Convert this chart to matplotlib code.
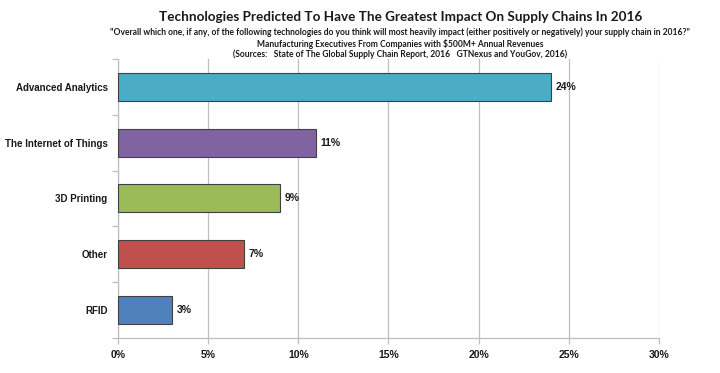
import matplotlib
matplotlib.use("Agg")
import matplotlib.pyplot as plt
from matplotlib.ticker import FuncFormatter, FixedLocator

# ── data ──
categories = ["Advanced Analytics", "The Internet of Things", "3D Printing", "Other", "RFID"]
values = [24, 11, 9, 7, 3]
colors = ["#4BACC6", "#8064A2", "#9BBB59", "#C0504D", "#4F81BD"]
x_ticks = [0, 5, 10, 15, 20, 25, 30]

TITLE = "Technologies Predicted To Have The Greatest Impact On Supply Chains In 2016"
SUB1 = ('"Overall which one, if any, of the following technologies do you think will most heavily '
        'impact (either positively or negatively) your supply chain in 2016?"')
SUB2 = "Manufacturing Executives From Companies with $500M+ Annual Revenues"
SUB3 = "(Sources:   State of The Global Supply Chain Report, 2016   GTNexus and YouGov, 2016)"

GRID = "#BFBFBF"

fig = plt.figure(figsize=(7.2, 3.73), dpi=100)
fig.patch.set_facecolor("white")
ax = fig.add_axes([0.164, 0.094, 0.751, 0.748])

n = len(categories)
ypos = list(range(n))[::-1]
ax.barh(ypos, values, height=0.5, color=colors, edgecolor="#404040", linewidth=0.8, zorder=3)

for y, v in zip(ypos, values):
    ax.text(v + 0.25, y, f"{v}%", va="center", ha="left",
            fontsize=7.5, fontweight="bold", family="Liberation Sans", color="#1a1a1a")

ax.set_xlim(0, 30)
ax.set_ylim(-0.5, n - 0.5)
ax.xaxis.set_major_locator(FixedLocator(x_ticks))
ax.xaxis.set_major_formatter(FuncFormatter(lambda v, p: f"{int(v)}%"))
ax.set_yticks(ypos)
ax.set_yticklabels(categories)
ax.yaxis.set_minor_locator(FixedLocator([i + 0.5 for i in range(-1, n)]))

ax.grid(axis="x", color=GRID, linewidth=0.9, zorder=0)
for s in ["top", "right"]:
    ax.spines[s].set_visible(False)
for s in ["left", "bottom"]:
    ax.spines[s].set_color(GRID)
    ax.spines[s].set_linewidth(0.9)

ax.tick_params(axis="y", which="major", length=0, pad=7.5)
ax.tick_params(axis="y", which="minor", length=4, color=GRID, width=0.9)
ax.tick_params(axis="x", length=4, color=GRID, width=0.9, pad=5)
for lab in ax.get_yticklabels():
    lab.set_fontsize(7)
for lab in ax.get_xticklabels():
    lab.set_fontsize(7.5)
for lab in ax.get_yticklabels() + ax.get_xticklabels():
    lab.set_fontweight("bold")
    lab.set_family("Liberation Sans")
    lab.set_color("#1a1a1a")

cx = 0.556
fig.text(cx, 0.954, TITLE, ha="center", va="center", fontsize=9.7,
         fontweight="bold", family="Lato", color="#1a1a1a")
fig.text(cx, 0.914, SUB1, ha="center", va="center", fontsize=6.15,
         fontweight="bold", family="Lato", color="#1a1a1a")
fig.text(cx, 0.883, SUB2, ha="center", va="center", fontsize=6.15,
         fontweight="bold", family="Lato", color="#1a1a1a")
fig.text(cx, 0.855, SUB3, ha="center", va="center", fontsize=6.15,
         fontweight="bold", family="Lato", color="#1a1a1a")

fig.savefig("out.png", dpi=100, facecolor="white")
